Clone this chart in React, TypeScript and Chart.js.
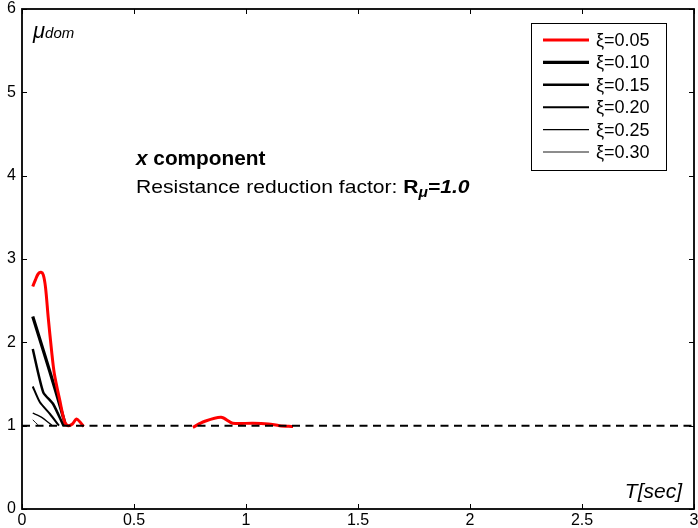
import React, { useEffect, useRef } from "react";
import { Chart, registerables } from "chart.js";

Chart.register(...registerables);

// ---- data ----
const T_005 = [0.048, 0.06, 0.072, 0.085, 0.095, 0.105, 0.117, 0.132, 0.144, 0.169, 0.191, 0.206, 0.225, 0.243, 0.26, 0.275, 0.5, 0.763, 0.814, 0.889, 0.94, 1.03, 1.1, 1.15, 1.21];
const MU_005 = [2.67, 2.75, 2.82, 2.84, 2.81, 2.66, 2.3, 1.9, 1.63, 1.3, 1.04, 1.0, 1.02, 1.08, 1.04, 0.99, null, 0.98, 1.05, 1.1, 1.03, 1.03, 1.02, 1.0, 0.99];
const T_010 = [0.048, 0.1, 0.15, 0.195];
const MU_010 = [2.31, 1.86, 1.42, 1.0];
const T_015 = [0.048, 0.095, 0.139, 0.185];
const MU_015 = [1.92, 1.4, 1.26, 1.0];
const T_020 = [0.048, 0.08, 0.125, 0.165];
const MU_020 = [1.47, 1.28, 1.14, 1.0];
const T_025 = [0.048, 0.088, 0.135];
const MU_025 = [1.15, 1.1, 1.0];
const T_030 = [0.048, 0.075];
const MU_030 = [1.07, 1.0];
const REF_T = [0, 3];
const REF_MU = [1, 1];
const SERIES_LABELS = ["ξ=0.05", "ξ=0.10", "ξ=0.15", "ξ=0.20", "ξ=0.25", "ξ=0.30"];
const X_TICKS = [0, 0.5, 1, 1.5, 2, 2.5, 3];
const Y_TICKS = [0, 1, 2, 3, 4, 5, 6];

const pts = (xs: number[], ys: (number | null)[]) => xs.map((x, i) => ({ x, y: ys[i] }));

const FONT = "'Liberation Sans', Arial, sans-serif";

const overlay = {
  id: "overlay",
  afterDraw(chart: any) {
    const ctx = chart.ctx;
    const xs = chart.scales.x;
    const ys = chart.scales.y;
    const { left, right, top, bottom } = chart.chartArea;
    ctx.save();
    // frame
    ctx.strokeStyle = "#000";
    ctx.lineWidth = 1.8;
    ctx.strokeRect(left, top, right - left, bottom - top);
    // inward ticks
    ctx.lineWidth = 1;
    const tl = 5;
    X_TICKS.forEach((v) => {
      const px = Math.round(xs.getPixelForValue(v)) + 0.5;
      ctx.beginPath();
      ctx.moveTo(px, bottom);
      ctx.lineTo(px, bottom - tl);
      ctx.moveTo(px, top);
      ctx.lineTo(px, top + tl);
      ctx.stroke();
    });
    Y_TICKS.forEach((v) => {
      const py = Math.round(ys.getPixelForValue(v)) + 0.5;
      ctx.beginPath();
      ctx.moveTo(left, py);
      ctx.lineTo(left + tl, py);
      ctx.moveTo(right, py);
      ctx.lineTo(right - tl, py);
      ctx.stroke();
    });

    // legend
    const lx = 531, ly = 23, lw = 135, lh = 147;
    ctx.fillStyle = "#fff";
    ctx.fillRect(lx, ly, lw, lh);
    ctx.lineWidth = 1;
    ctx.strokeStyle = "#000";
    ctx.strokeRect(lx + 0.5, ly + 0.5, lw, lh);
    const dsets = chart.data.datasets.filter((d: any) => d.inLegend);
    dsets.forEach((d: any, i: number) => {
      const y = 40 + i * 22.4;
      ctx.strokeStyle = d.borderColor;
      ctx.lineWidth = d.borderWidth;
      ctx.beginPath();
      ctx.moveTo(543, y);
      ctx.lineTo(589, y);
      ctx.stroke();
      ctx.fillStyle = "#000";
      ctx.font = `18px ${FONT}`;
      ctx.textBaseline = "middle";
      ctx.textAlign = "left";
      ctx.fillText(d.label, 596, y + 1);
    });

    // texts
    const seq = (parts: [string, string, number?][], x: number, y: number, sx = 1) => {
      ctx.save();
      ctx.translate(x, y);
      ctx.scale(sx, 1);
      let cx = 0;
      parts.forEach(([t, f, dy]) => {
        ctx.font = f;
        ctx.fillText(t, cx, dy || 0);
        cx += ctx.measureText(t).width;
      });
      ctx.restore();
    };
    ctx.fillStyle = "#000";
    ctx.textBaseline = "alphabetic";
    ctx.textAlign = "left";
    seq([["x", `italic bold 20px ${FONT}`], [" component", `bold 20px ${FONT}`]], 136, 165, 1.04);
    seq(
      [
        ["Resistance reduction factor: ", `19px ${FONT}`],
        ["R", `bold 19px ${FONT}`],
        ["μ", `italic bold 14px ${FONT}`, 4],
        ["=1.0", `italic bold 19px ${FONT}`],
      ],
      136,
      193,
      1.11
    );
    seq([["μ", `italic 22px ${FONT}`], ["dom", `italic 15px ${FONT}`]], 33, 38);
    ctx.font = `italic 21px ${FONT}`;
    ctx.textAlign = "right";
    ctx.fillText("T[sec]", 682, 498);
    ctx.restore();
  },
};

export default function App() {
  const ref = useRef<HTMLCanvasElement>(null);
  useEffect(() => {
    document.body.style.margin = "0";
    const widths = [3, 3.2, 2.5, 2, 1.3, 0.9];
    const series = [
      pts(T_005, MU_005),
      pts(T_010, MU_010),
      pts(T_015, MU_015),
      pts(T_020, MU_020),
      pts(T_025, MU_025),
      pts(T_030, MU_030),
    ];
    const datasets: any[] = series.map((d, i) => ({
      label: SERIES_LABELS[i],
      data: d,
      borderColor: i === 0 ? "#ff0000" : "#000000",
      borderWidth: widths[i],
      pointRadius: 0,
      tension: i === 0 ? 0.3 : 0.2,
      fill: false,
      spanGaps: false,
      inLegend: true,
      order: 1,
    }));
    datasets.push({
      label: "ref",
      data: pts(REF_T, REF_MU),
      borderColor: "#000",
      borderWidth: 2,
      borderDash: [8, 5.5],
      pointRadius: 0,
      fill: false,
      inLegend: false,
      order: 0,
    });
    const chart = new Chart(ref.current as HTMLCanvasElement, {
      type: "line",
      data: { datasets },
      options: {
        animation: false,
        responsive: false,
        layout: { padding: { top: 9, right: 4, left: 0, bottom: 0 } },
        plugins: { legend: { display: false }, tooltip: { enabled: false } },
        scales: {
          x: {
            type: "linear",
            min: 0,
            max: 3,
            afterBuildTicks: (s: any) => {
              s.ticks = X_TICKS.map((v) => ({ value: v }));
            },
            afterFit: (s: any) => {
              s.height = 19;
              s.paddingLeft = 0;
              s.paddingRight = 0;
            },
            ticks: {
              font: { size: 16, family: FONT },
              color: "#000",
              padding: 2,
              maxRotation: 0,
              autoSkip: false,
              callback: (v: any) => String(v),
            },
            grid: { display: false, drawTicks: false },
            border: { display: false },
          },
          y: {
            type: "linear",
            min: 0,
            max: 6,
            afterBuildTicks: (s: any) => {
              s.ticks = Y_TICKS.map((v) => ({ value: v }));
            },
            afterFit: (s: any) => {
              s.width = 22;
              s.paddingTop = 0;
              s.paddingBottom = 0;
            },
            ticks: { font: { size: 16, family: FONT }, color: "#000", padding: 6, callback: (v: any) => String(v) },
            grid: { display: false, drawTicks: false },
            border: { display: false },
          },
        },
      },
      plugins: [overlay],
    });
    return () => chart.destroy();
  }, []);
  return (
    <div style={{ position: "absolute", left: 0, top: 0, width: 698, height: 528, background: "#fff" }}>
      <canvas ref={ref} width={698} height={528} />
    </div>
  );
}
